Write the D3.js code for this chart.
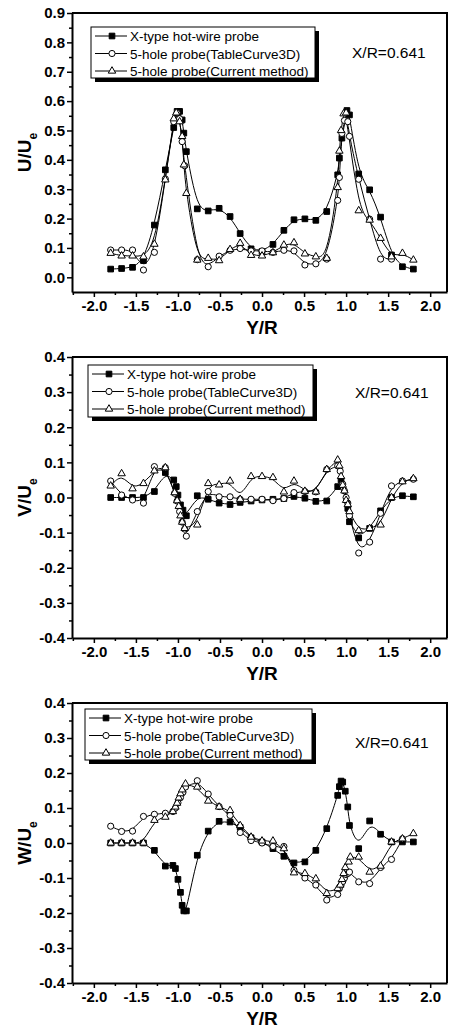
<!DOCTYPE html>
<html>
<head>
<meta charset="utf-8">
<script src="https://cdnjs.cloudflare.com/ajax/libs/d3/7.8.5/d3.min.js"></script>
<style>
body { margin: 0; background: #fff; }
svg { display: block; }
text { font-family: Arial, "Liberation Sans", sans-serif; }
</style>
</head>
<body>
<svg id="chart" width="452" height="1028"></svg>
<script>
// --- U/Ue panel ---
var uHotX = [-1.8,-1.67,-1.54,-1.41,-1.28,-1.15,-1.05,-1.01,-0.98,-0.95,-0.93,-0.9,-0.77,-0.64,-0.51,-0.38,-0.26,-0.13,0,0.13,0.26,0.38,0.51,0.64,0.77,0.9,0.92,0.95,1.01,1.04,1.15,1.28,1.41,1.54,1.67,1.8];
var uHotY = [0.028,0.030,0.034,0.057,0.178,0.366,0.51,0.565,0.565,0.536,0.491,0.428,0.233,0.226,0.235,0.207,0.149,0.097,0.088,0.112,0.160,0.196,0.199,0.194,0.224,0.349,0.406,0.474,0.568,0.553,0.352,0.298,0.205,0.076,0.036,0.028];
var uTcX = [-1.8,-1.67,-1.54,-1.41,-1.28,-1.15,-1.05,-1.01,-0.98,-0.95,-0.92,-0.77,-0.64,-0.51,-0.38,-0.26,-0.13,0,0.13,0.26,0.38,0.51,0.64,0.77,0.9,0.92,0.95,0.98,1.02,1.04,1.15,1.28,1.41,1.54];
var uTcY = [0.093,0.093,0.093,0.025,0.085,0.335,0.53,0.56,0.54,0.462,0.38,0.06,0.036,0.072,0.092,0.098,0.09,0.09,0.085,0.092,0.09,0.042,0.046,0.062,0.262,0.34,0.49,0.534,0.53,0.48,0.334,0.198,0.062,0.062];
var uCmX = [-1.8,-1.67,-1.54,-1.41,-1.28,-1.15,-1.05,-1.02,-0.98,-0.95,-0.93,-0.9,-0.77,-0.64,-0.51,-0.38,-0.26,-0.13,0,0.13,0.26,0.38,0.51,0.64,0.77,0.9,0.92,0.94,0.97,1.0,1.15,1.28,1.41,1.54,1.67,1.8];
var uCmY = [0.082,0.073,0.073,0.07,0.113,0.332,0.54,0.56,0.53,0.48,0.383,0.286,0.059,0.065,0.057,0.095,0.116,0.075,0.073,0.084,0.11,0.118,0.08,0.07,0.065,0.306,0.43,0.50,0.557,0.56,0.227,0.195,0.133,0.07,0.082,0.059];

// --- V/Ue panel ---
var vHotX = [-1.8,-1.67,-1.54,-1.41,-1.28,-1.15,-1.05,-1.02,-1.0,-0.97,-0.94,-0.9,-0.77,-0.64,-0.51,-0.38,-0.26,-0.13,0,0.13,0.26,0.38,0.51,0.64,0.77,0.9,0.94,1.02,1.04,1.15,1.28,1.41,1.54,1.67,1.8];
var vHotY = [0,0,0,0,0.017,0.071,0.05,0.031,0.007,-0.021,-0.036,-0.052,0.005,-0.005,-0.016,-0.02,-0.014,-0.01,-0.007,-0.005,-0.003,0.003,-0.002,-0.011,-0.01,0.031,0.05,-0.031,-0.069,-0.115,-0.088,-0.038,0,0.005,0.002];
var vTcX = [-1.8,-1.67,-1.54,-1.41,-1.28,-1.15,-1.04,-1.01,-0.98,-0.95,-0.92,-0.9,-0.77,-0.64,-0.51,-0.38,-0.26,-0.13,0,0.13,0.26,0.38,0.51,0.64,0.77,0.9,0.93,0.96,0.98,1.0,1.02,1.04,1.15,1.28,1.41,1.54,1.67,1.8];
var vTcY = [0.047,0.007,-0.007,-0.016,0.088,0.085,0.012,-0.01,-0.04,-0.07,-0.09,-0.11,-0.04,0.017,0.002,0.002,-0.005,-0.005,-0.005,-0.009,-0.003,0.014,0.017,0.016,0.08,0.09,0.075,0.038,0.019,0,-0.016,-0.052,-0.158,-0.127,-0.045,0.033,0.047,0.052];
var vCmX = [-1.8,-1.67,-1.54,-1.41,-1.28,-1.15,-1.04,-1.01,-0.99,-0.97,-0.95,-0.92,-0.77,-0.64,-0.51,-0.38,-0.26,-0.13,0,0.13,0.26,0.38,0.51,0.64,0.77,0.9,0.92,0.94,0.96,0.98,1.0,1.02,1.04,1.15,1.28,1.41,1.54,1.67,1.8];
var vCmY = [0.033,0.068,0.025,0.04,0.076,0.085,0.014,-0.009,-0.025,-0.052,-0.07,-0.088,-0.078,0.04,0.036,0.047,-0.005,0.06,0.06,0.057,0.016,0.047,0.018,0.016,0.08,0.107,0.09,0.06,0.035,0.019,-0.008,-0.02,-0.04,-0.094,-0.088,-0.078,0,0.045,0.054];

// --- W/Ue panel ---
var wHotX = [-1.8,-1.67,-1.54,-1.41,-1.28,-1.15,-1.06,-1.03,-1.0,-0.97,-0.95,-0.93,-0.9,-0.77,-0.64,-0.51,-0.38,-0.26,-0.13,0,0.13,0.26,0.38,0.51,0.64,0.77,0.9,0.92,0.94,0.96,0.99,1.02,1.04,1.15,1.28,1.41,1.54,1.67,1.8];
var wHotY = [0,0,0,0,-0.021,-0.066,-0.064,-0.073,-0.104,-0.141,-0.178,-0.194,-0.194,-0.035,0.034,0.062,0.06,0.045,0.015,0.003,-0.016,-0.038,-0.057,-0.054,-0.021,0.041,0.136,0.161,0.177,0.174,0.148,0.103,0.05,-0.016,0.063,0.025,0.003,0.003,0.003];
var wTcX = [-1.8,-1.67,-1.54,-1.41,-1.28,-1.15,-1.06,-1.03,-1.0,-0.97,-0.94,-0.91,-0.77,-0.64,-0.51,-0.38,-0.26,-0.13,0,0.13,0.26,0.38,0.51,0.64,0.77,0.9,0.92,0.94,0.96,0.98,1.0,1.02,1.04,1.15,1.28,1.41,1.54,1.67];
var wTcY = [0.048,0.033,0.034,0.076,0.082,0.085,0.09,0.1,0.115,0.13,0.145,0.16,0.178,0.14,0.104,0.079,0.03,0.007,0,-0.01,-0.01,-0.078,-0.1,-0.12,-0.163,-0.147,-0.13,-0.12,-0.11,-0.1,-0.09,-0.087,-0.083,-0.111,-0.116,-0.07,-0.047,0.012];
var wCmX = [-1.8,-1.67,-1.54,-1.41,-1.28,-1.15,-1.06,-1.03,-1.01,-0.99,-0.97,-0.95,-0.91,-0.77,-0.64,-0.51,-0.38,-0.26,-0.13,0,0.13,0.26,0.38,0.51,0.64,0.77,0.9,0.93,0.95,0.97,0.99,1.03,1.05,1.15,1.28,1.41,1.54,1.67,1.8];
var wCmY = [0,0,0,0,0.065,0.074,0.09,0.103,0.114,0.129,0.141,0.152,0.169,0.16,0.12,0.103,0.093,0.05,0.017,0.006,0.006,-0.016,-0.085,-0.087,-0.102,-0.144,-0.13,-0.12,-0.104,-0.087,-0.07,-0.054,-0.04,-0.04,-0.083,-0.066,0.003,0.012,0.027];

var xTicks = [-2,-1.5,-1,-0.5,0,0.5,1,1.5,2];
var uTicks = [0,0.1,0.2,0.3,0.4,0.5,0.6,0.7,0.8,0.9];
var vwTicks = [-0.4,-0.3,-0.2,-0.1,0,0.1,0.2,0.3,0.4];
var legendNames = ["X-type hot-wire probe", "5-hole probe(TableCurve3D)", "5-hole probe(Current method)"];
var stationLabel = "X/R=0.641";

function zip(xs, ys) {
    return xs.map(function (x, i) { return [x, ys[i]]; });
}

var panels = [
    {comp: "U", top: 13, bottom: 292, yDomain: [-0.05, 0.9], yTicks: uTicks,
     legend: [91, 27, 224, 51], station: [352, 58],
     series: [zip(uHotX, uHotY), zip(uTcX, uTcY), zip(uCmX, uCmY)]},
    {comp: "V", top: 357, bottom: 638, yDomain: [-0.4, 0.4], yTicks: vwTicks,
     legend: [88, 365, 225, 52], station: [355, 398],
     series: [zip(vHotX, vHotY), zip(vTcX, vTcY), zip(vCmX, vCmY)]},
    {comp: "W", top: 703, bottom: 983, yDomain: [-0.4, 0.4], yTicks: vwTicks,
     legend: [85, 709, 227, 51], station: [355, 748],
     series: [zip(wHotX, wHotY), zip(wTcX, wTcY), zip(wCmX, wCmY)]}
];

var left = 72, right = 447;
var svg = d3.select("#chart");
var symbols = [d3.symbol().type(d3.symbolSquare).size(32),
               d3.symbol().type(d3.symbolCircle).size(30),
               d3.symbol().type(d3.symbolTriangle).size(24)];
var fills = ["#000", "#fff", "#fff"];
var fmt = function (d) { return d.toFixed(1); };

function midpoints(t) {
    var m = [];
    for (var i = 0; i < t.length - 1; i++) m.push((t[i] + t[i + 1]) / 2);
    return m;
}

panels.forEach(function (p) {
    var x = d3.scaleLinear().domain([-2.26, 2.2]).range([left, right]);
    var y = d3.scaleLinear().domain(p.yDomain).range([p.bottom, p.top]);
    var g = svg.append("g");

    // frame top/right
    g.append("path")
        .attr("d", "M" + left + "," + p.top + "H" + right + "V" + p.bottom)
        .attr("fill", "none").attr("stroke", "#000").attr("stroke-width", 2);

    // minor ticks
    g.append("g").attr("transform", "translate(0," + p.bottom + ")")
        .call(d3.axisBottom(x).tickValues(midpoints(xTicks).concat([-2.25, 2.25].filter(function (v) { return v > -2.26 && v < 2.2; }))).tickSize(3).tickFormat(""))
        .call(function (a) { a.select(".domain").remove(); a.selectAll("line").attr("stroke-width", 1.5); });
    g.append("g").attr("transform", "translate(" + left + ",0)")
        .call(d3.axisLeft(y).tickValues(midpoints(p.yTicks)).tickSize(3).tickFormat(""))
        .call(function (a) { a.select(".domain").remove(); a.selectAll("line").attr("stroke-width", 1.5); });

    // major axes
    var xa = g.append("g").attr("transform", "translate(0," + p.bottom + ")")
        .call(d3.axisBottom(x).tickValues(xTicks).tickSize(5).tickPadding(3).tickSizeOuter(0).tickFormat(fmt));
    var ya = g.append("g").attr("transform", "translate(" + left + ",0)")
        .call(d3.axisLeft(y).tickValues(p.yTicks).tickSize(5).tickPadding(2).tickSizeOuter(0).tickFormat(fmt));
    [xa, ya].forEach(function (a) {
        a.select(".domain").attr("stroke-width", 2);
        a.selectAll(".tick line").attr("stroke-width", 1.5);
        a.selectAll("text").attr("font-size", 15).attr("font-weight", "bold").attr("fill", "#000")
            .attr("font-family", "Arial, 'Liberation Sans', sans-serif");
    });

    // axis titles
    g.append("text").attr("x", (x(-2) + x(2)) / 2).attr("y", p.bottom + 42)
        .attr("text-anchor", "middle").attr("font-size", 19).attr("font-weight", "bold")
        .text("Y/R");
    var yt = g.append("text")
        .attr("transform", "translate(31," + (p.top + p.bottom) / 2 + ") rotate(-90)")
        .attr("text-anchor", "middle").attr("font-size", 19).attr("font-weight", "bold");
    yt.append("tspan").text(p.comp + "/U");
    yt.append("tspan").attr("dy", 6).attr("font-size", 12).text("e");

    // curves
    var line = d3.line().x(function (d) { return x(d[0]); }).y(function (d) { return y(d[1]); })
        .curve(d3.curveBasis);
    p.series.forEach(function (s) {
        g.append("path").datum(s).attr("d", line)
            .attr("fill", "none").attr("stroke", "#000").attr("stroke-width", 1);
    });
    p.series.forEach(function (s, k) {
        g.append("g").selectAll("path").data(s).enter().append("path")
            .attr("d", symbols[k])
            .attr("transform", function (d) { return "translate(" + x(d[0]) + "," + y(d[1]) + ")"; })
            .attr("fill", fills[k]).attr("stroke", "#000").attr("stroke-width", 1);
    });

    // legend
    var L = p.legend;
    g.append("rect").attr("x", L[0] + 4).attr("y", L[1] + 4).attr("width", L[2]).attr("height", L[3]).attr("fill", "#000");
    g.append("rect").attr("x", L[0]).attr("y", L[1]).attr("width", L[2]).attr("height", L[3])
        .attr("fill", "#fff").attr("stroke", "#000").attr("stroke-width", 1);
    legendNames.forEach(function (name, k) {
        var ry = L[1] + 9 + k * 17.5;
        g.append("line").attr("x1", L[0] + 4).attr("x2", L[0] + 36).attr("y1", ry).attr("y2", ry)
            .attr("stroke", "#000").attr("stroke-width", 1);
        g.append("path").attr("d", symbols[k]).attr("transform", "translate(" + (L[0] + 21) + "," + ry + ")")
            .attr("fill", fills[k]).attr("stroke", "#000").attr("stroke-width", 1);
        g.append("text").attr("x", L[0] + 39).attr("y", ry + 5).attr("font-size", 13.5).text(name);
    });

    g.append("text").attr("x", p.station[0]).attr("y", p.station[1]).attr("font-size", 15.5).text(stationLabel);
});
</script>
</body>
</html>
